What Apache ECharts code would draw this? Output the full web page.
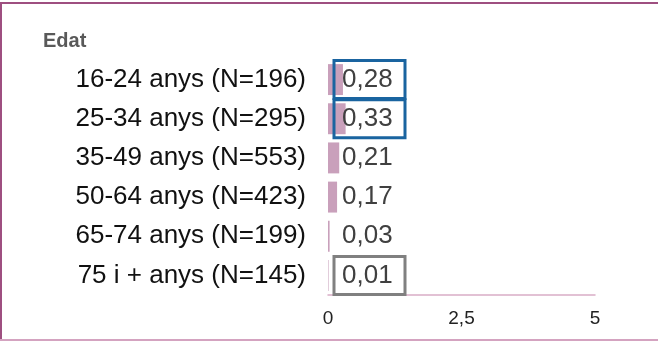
<!DOCTYPE html>
<html><head><meta charset="utf-8">
<script src="https://cdn.jsdelivr.net/npm/echarts@6/dist/echarts.min.js"></script>
<style>html,body{margin:0;padding:0;background:#fff}#c{width:658px;height:341px}</style>
</head><body><div id="c"></div>
<script>
const categories = ['16-24 anys (N=196)','25-34 anys (N=295)','35-49 anys (N=553)','50-64 anys (N=423)','65-74 anys (N=199)','75 i + anys (N=145)'];
const values = [0.28, 0.33, 0.21, 0.17, 0.03, 0.01];
const boxColors = ['#1a64a0', '#1a64a0', null, null, null, '#808080'];
const xTicks = [0, 2.5, 5];

const fmt = v => String(v).replace('.', ',');
const data = values.map((v, i) => ({
  value: v,
  label: { borderColor: boxColors[i] || 'rgba(0,0,0,0)', borderWidth: 3 }
}));

const chart = echarts.init(document.getElementById('c'), null, { renderer: 'canvas' });
chart.setOption({
  animation: false,
  title: { text: 'Edat', left: 38, top: 26, textStyle: { fontFamily: 'Liberation Sans, Arial', fontWeight: 'bold', fontSize: 20, color: '#595959' } },
  grid: { left: 328, right: 63, top: 60, bottom: 46 },
  xAxis: {
    type: 'value', min: xTicks[0], max: xTicks[xTicks.length - 1], interval: 2.5,
    axisLine: { show: true, lineStyle: { color: '#d9adc6', width: 1.5 } },
    axisTick: { show: false }, splitLine: { show: false },
    axisLabel: { margin: 14, fontFamily: 'Liberation Sans, Arial', fontSize: 19, color: '#222', formatter: v => fmt(v) }
  },
  yAxis: {
    type: 'category', data: categories, inverse: true,
    axisLine: { show: false }, axisTick: { show: false },
    axisLabel: { margin: 22, fontFamily: 'Liberation Sans, Arial', fontSize: 26, color: '#111' }
  },
  series: [{
    type: 'bar', data: data, barCategoryGap: '21%',
    itemStyle: { color: '#c9a0bb' },
    label: {
      show: true, position: 'insideLeft', distance: 6,
      padding: [6, 9, 6, 8], width: 54,
      fontFamily: 'Liberation Sans, Arial', fontSize: 26, color: '#404040',
      formatter: p => fmt(p.value.toFixed(2))
    }
  }],
  graphic: [
    { type: 'line', shape: { x1: 0, y1: 3, x2: 658, y2: 3 }, style: { stroke: '#9e4f80', lineWidth: 2 } },
    { type: 'line', shape: { x1: 1, y1: 2, x2: 1, y2: 341 }, style: { stroke: '#9e4f80', lineWidth: 2 } },
    { type: 'line', shape: { x1: 0, y1: 340, x2: 658, y2: 340 }, style: { stroke: '#d4a3c0', lineWidth: 2 } }
  ]
});
</script></body></html>
